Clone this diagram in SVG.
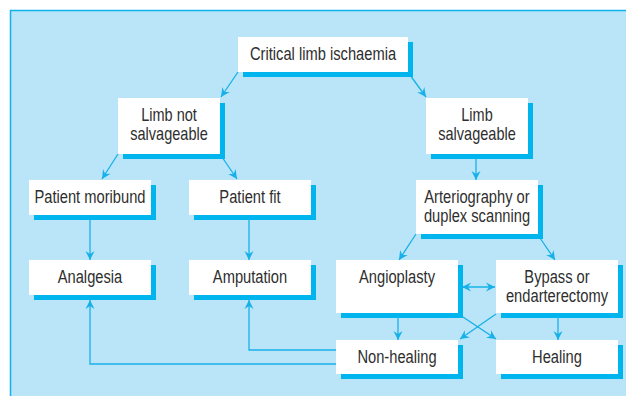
<svg xmlns="http://www.w3.org/2000/svg" width="626" height="396" viewBox="0 0 626 396">
<style>
.bg{fill:#bae5f8;stroke:#12b3ec;stroke-width:1.5}
.sh{fill:#00b4ee}
.bx{fill:#ffffff}
.t{font-family:"Liberation Sans",Arial,sans-serif;font-size:17.5px;fill:#2e2e2e;text-anchor:middle}
.c{fill:none;stroke:#17b0e9;stroke-width:1.3}
.a{marker-end:url(#ah)}
</style>
<defs>
<marker id="ah" viewBox="-10 -5 11 10" refX="0" refY="0" markerWidth="11" markerHeight="10" markerUnits="userSpaceOnUse" orient="auto-start-reverse">
<path d="M0,0 L-9,-4.5 L-6,0 L-9,4.5 Z" fill="#17b0e9"/>
</marker>
</defs>
<rect class="bg" x="10.5" y="10.5" width="620" height="400"/>
<g id="connectors">
<path class="c a" d="M238,72 L221,97"/>
<path class="c a" d="M410,75 L426,97"/>
<path class="c a" d="M476,158 L476,180"/>
<path class="c a" d="M118,154 L102,179"/>
<path class="c a" d="M222,157 L237,179"/>
<path class="c a" d="M90,219 L90,260"/>
<path class="c a" d="M249,219 L249,260"/>
<path class="c a" d="M416,234 L399,260"/>
<path class="c a" d="M540,238 L555,260"/>
<path class="c a" d="M462,287 L495,287" marker-start="url(#ah)"/>
<path class="c a" d="M398,318 L398,340"/>
<path class="c a" d="M558,318 L558,340"/>
<path class="c a" d="M460,315 L496,339"/>
<path class="c a" d="M496,314 L460,339"/>
<path class="c a" d="M336,350 L249,350 L249,300"/>
<path class="c a" d="M336,364 L90,364 L90,300"/>
</g>
<g id="n-critical"><rect class="sh" x="243" y="42" width="170" height="35"/><rect class="bx" x="238" y="37" width="170" height="35"/><text class="t" transform="translate(323 60) scale(0.84 1)">Critical limb ischaemia</text></g>
<g id="n-notsalv"><rect class="sh" x="123" y="103" width="102" height="56"/><rect class="bx" x="118" y="98" width="102" height="56"/><text class="t" transform="translate(169 121) scale(0.83 1)">Limb not</text><text class="t" transform="translate(169 140) scale(0.83 1)">salvageable</text></g>
<g id="n-salv"><rect class="sh" x="431" y="103" width="102" height="56"/><rect class="bx" x="426" y="98" width="102" height="56"/><text class="t" transform="translate(477 121) scale(0.83 1)">Limb</text><text class="t" transform="translate(477 140) scale(0.83 1)">salvageable</text></g>
<g id="n-moribund"><rect class="sh" x="34" y="185" width="122" height="35"/><rect class="bx" x="29" y="180" width="122" height="35"/><text class="t" transform="translate(90 203) scale(0.84 1)">Patient moribund</text></g>
<g id="n-fit"><rect class="sh" x="194" y="185" width="122" height="35"/><rect class="bx" x="189" y="180" width="122" height="35"/><text class="t" transform="translate(250 203) scale(0.84 1)">Patient fit</text></g>
<g id="n-arterio"><rect class="sh" x="421" y="185" width="122" height="54"/><rect class="bx" x="416" y="180" width="122" height="54"/><text class="t" transform="translate(477 203) scale(0.84 1)">Arteriography or</text><text class="t" transform="translate(477 222) scale(0.84 1)">duplex scanning</text></g>
<g id="n-analgesia"><rect class="sh" x="34" y="265" width="122" height="35"/><rect class="bx" x="29" y="260" width="122" height="35"/><text class="t" transform="translate(90 283) scale(0.84 1)">Analgesia</text></g>
<g id="n-amputation"><rect class="sh" x="194" y="265" width="122" height="35"/><rect class="bx" x="189" y="260" width="122" height="35"/><text class="t" transform="translate(250 283) scale(0.84 1)">Amputation</text></g>
<g id="n-angioplasty"><rect class="sh" x="341" y="265" width="122" height="53"/><rect class="bx" x="336" y="260" width="122" height="53"/><text class="t" transform="translate(397 283) scale(0.84 1)">Angioplasty</text></g>
<g id="n-bypass"><rect class="sh" x="501" y="265" width="122" height="53"/><rect class="bx" x="496" y="260" width="122" height="53"/><text class="t" transform="translate(557 283) scale(0.84 1)">Bypass or</text><text class="t" transform="translate(557 302) scale(0.84 1)">endarterectomy</text></g>
<g id="n-nonhealing"><rect class="sh" x="341" y="345" width="122" height="34"/><rect class="bx" x="336" y="340" width="122" height="34"/><text class="t" transform="translate(397 363) scale(0.84 1)">Non-healing</text></g>
<g id="n-healing"><rect class="sh" x="501" y="345" width="122" height="34"/><rect class="bx" x="496" y="340" width="122" height="34"/><text class="t" transform="translate(557 363) scale(0.84 1)">Healing</text></g>
</svg>
